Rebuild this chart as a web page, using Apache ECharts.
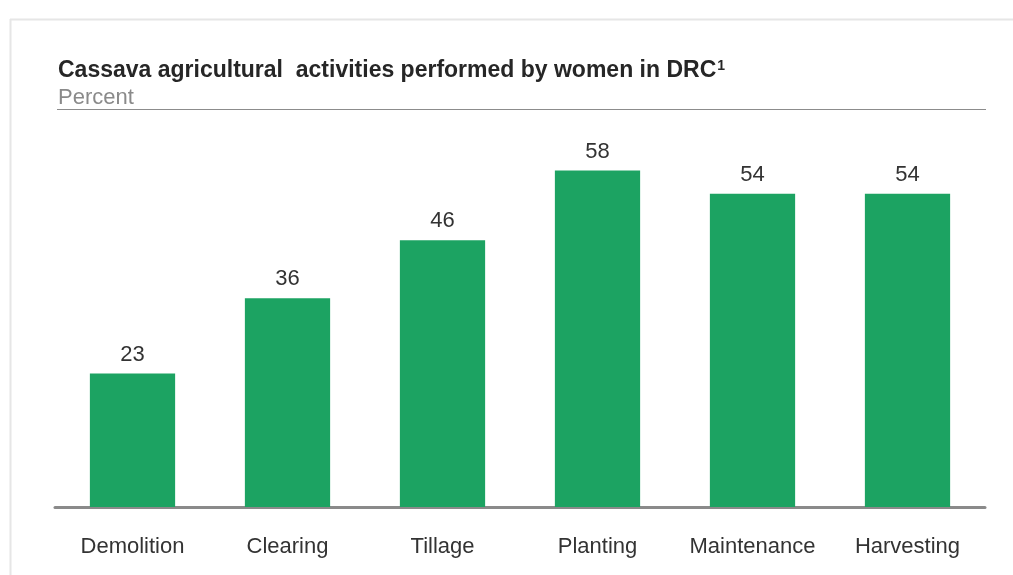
<!DOCTYPE html>
<html><head><meta charset="utf-8">
<script src="https://cdn.jsdelivr.net/npm/echarts@6/dist/echarts.min.js"></script>
<style>html,body{margin:0;padding:0;background:#fff}#c{width:1013px;height:575px}</style>
</head><body><div id="c"></div>
<script>
const categories = ['Demolition','Clearing','Tillage','Planting','Maintenance','Harvesting'];
const values = [23, 36, 46, 58, 54, 54];
const titleText = 'Cassava agricultural  activities performed by women in DRC';
const subtitleText = 'Percent';

const chart = echarts.init(document.getElementById('c'), null, {renderer:'canvas'});
const F = '"Liberation Sans", Arial, sans-serif';
chart.setOption({
  animation: false,
  backgroundColor: '#fff',
  graphic: [
    {type:'line', shape:{x1:10,y1:19.5,x2:1013,y2:19.5}, style:{stroke:'#e6e6e6', lineWidth:2}},
    {type:'line', shape:{x1:10.5,y1:19,x2:10.5,y2:575}, style:{stroke:'#e6e6e6', lineWidth:2}},
    {type:'line', shape:{x1:57,y1:109.5,x2:986,y2:109.5}, style:{stroke:'#8c8c8c', lineWidth:1.2}}
  ],
  title: {
    text: '{t|' + titleText + '}{s|1}',
    subtext: subtitleText,
    left: 53, top: 54,
    itemGap: 5,
    textStyle: {
      rich: {
        t: {fontFamily: F, fontWeight: 'bold', fontSize: 23, color: '#262626'},
        s: {fontFamily: F, fontWeight: 'bold', fontSize: 14, color: '#262626', verticalAlign: 'top', padding:[0,0,9,1]}
      }
    },
    subtextStyle: {fontFamily: F, fontSize: 22, color: '#8a8a8a'}
  },
  grid: {left: 55, right: 28, top: 159, bottom: 68, containLabel: false},
  xAxis: {
    type: 'category', data: categories,
    axisLine: {lineStyle: {color: '#8a8a8a', width: 3}},
    axisTick: {show: false},
    axisLabel: {interval: 0, fontFamily: F, fontSize: 22, color: '#333', margin: 29}
  },
  yAxis: {type: 'value', min: 0, max: 60, show: false, splitLine: {show: false}},
  series: [{
    type: 'bar', data: values, barWidth: '55%',
    itemStyle: {color: '#1ca362'},
    label: {show: true, position: 'top', distance: 8, fontFamily: F, fontSize: 22, color: '#333'}
  }]
});
</script></body></html>
